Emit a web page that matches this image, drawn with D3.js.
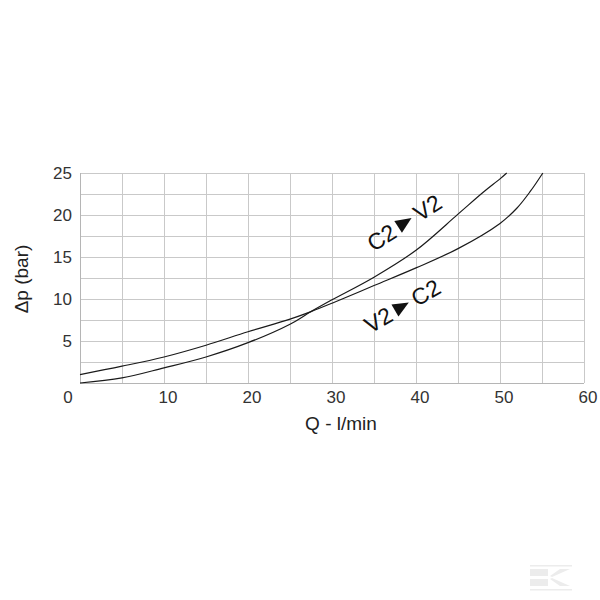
<!DOCTYPE html>
<html>
<head>
<meta charset="utf-8">
<script src="https://cdn.jsdelivr.net/npm/d3@7"></script>
<style>
  html, body { margin: 0; padding: 0; background: #fff; }
  svg { display: block; font-family: "Liberation Sans", Arial, sans-serif; }
</style>
</head>
<body>
<svg id="chart" width="600" height="600"></svg>
<script>
// Q (l/min) and Δp (bar) for the two flow directions
const qV2toC2 = [0, 5, 10, 15, 20, 25, 27.5, 30, 35, 40, 45, 50, 52, 53.6, 55.1];
const dpV2toC2 = [1.0, 2.0, 3.1, 4.5, 6.1, 7.6, 8.5, 9.5, 11.6, 13.7, 16.0, 19.0, 20.8, 22.8, 25];
const qC2toV2 = [0, 5, 10, 15, 20, 25, 27.5, 30, 35, 40, 45, 48, 50, 50.8];
const dpC2toV2 = [0, 0.6, 1.8, 3.1, 4.8, 7.0, 8.5, 9.9, 12.6, 15.8, 20.1, 22.7, 24.3, 25];
const xTicks = [0, 10, 20, 30, 40, 50, 60];
const yTicks = [5, 10, 15, 20, 25];
const xGrid = [5, 10, 15, 20, 25, 30, 35, 40, 45, 50, 55, 60];
const yGrid = [2.5, 5, 7.5, 10, 12.5, 15, 17.5, 20, 22.5, 25];

const svg = d3.select("#chart");
const x = d3.scaleLinear().domain([0, 60]).range([80, 584]);
const y = d3.scaleLinear().domain([0, 25]).range([383, 173]);

// grid
const grid = svg.append("g").attr("stroke", "#c9c9c9").attr("stroke-width", 1);
grid.selectAll("line.v").data(xGrid).join("line")
  .attr("x1", d => Math.round(x(d)) + 0.5).attr("x2", d => Math.round(x(d)) + 0.5)
  .attr("y1", y(25)).attr("y2", y(0));
grid.selectAll("line.h").data(yGrid).join("line")
  .attr("x1", x(0)).attr("x2", x(60))
  .attr("y1", d => Math.round(y(d)) + 0.5).attr("y2", d => Math.round(y(d)) + 0.5);
// frame left & bottom
svg.append("line").attr("x1", x(0) + 0.5).attr("x2", x(0) + 0.5).attr("y1", y(25)).attr("y2", y(0))
  .attr("stroke", "#b5b5b5");
svg.append("line").attr("x1", x(0)).attr("x2", x(60)).attr("y1", Math.round(y(0)) + 0.5).attr("y2", Math.round(y(0)) + 0.5)
  .attr("stroke", "#b5b5b5");

// tick labels
svg.append("g").selectAll("text").data(xTicks).join("text")
  .attr("x", d => x(d) + (d === 0 ? -12 : 4))
  .attr("y", 403)
  .attr("text-anchor", "middle")
  .attr("font-size", 17)
  .attr("fill", "#333")
  .text(d => d);
svg.append("g").selectAll("text").data(yTicks).join("text")
  .attr("x", 72)
  .attr("y", d => y(d) + 6)
  .attr("text-anchor", "end")
  .attr("font-size", 17)
  .attr("fill", "#333")
  .text(d => d);

// axis titles
svg.append("text").attr("x", 341).attr("y", 430).attr("text-anchor", "middle")
  .attr("font-size", 19).attr("fill", "#222").text("Q - l/min");
svg.append("text").attr("transform", "translate(28,279) rotate(-90)").attr("text-anchor", "middle")
  .attr("font-size", 19).attr("fill", "#222").text("Δp (bar)");

// curves
const line = d3.line().x(d => x(d[0])).y(d => y(d[1])).curve(d3.curveCatmullRom.alpha(0.5));
svg.append("path").datum(qV2toC2.map((q, i) => [q, dpV2toC2[i]]))
  .attr("d", line).attr("fill", "none").attr("stroke", "#1a1a1a").attr("stroke-width", 1.2);
svg.append("path").datum(qC2toV2.map((q, i) => [q, dpC2toV2[i]]))
  .attr("d", line).attr("fill", "none").attr("stroke", "#1a1a1a").attr("stroke-width", 1.2);

// direction labels
function dirLabel(cx, cy, angle, from, to) {
  const g = svg.append("g").attr("transform", `translate(${cx},${cy}) rotate(${angle})`);
  g.append("text").attr("x", -12).attr("y", 8).attr("text-anchor", "end")
    .attr("font-size", 23).attr("fill", "#111").text(from);
  g.append("path").attr("d", "M-7,-7L9,0L-7,7Z").attr("fill", "#111");
  g.append("text").attr("x", 14).attr("y", 8).attr("text-anchor", "start")
    .attr("font-size", 23).attr("fill", "#111").text(to);
}
dirLabel(404, 223, -33, "C2", "V2");
dirLabel(401, 307, -30, "V2", "C2");

// faint logo watermark
const wm = svg.append("g").attr("fill", "#ececec");
wm.append("rect").attr("x", 530).attr("y", 565).attr("width", 42).attr("height", 1.5);
wm.append("rect").attr("x", 530).attr("y", 589).attr("width", 42).attr("height", 1.5);
wm.append("path").attr("d", "M530,569H548V576H530Z");
wm.append("path").attr("d", "M530,579H548V586H530Z");
wm.append("path").attr("d", "M552,577L570,569H560L550,576Z");
wm.append("path").attr("d", "M552,578L570,586H560L550,579Z");
</script>
</body>
</html>
